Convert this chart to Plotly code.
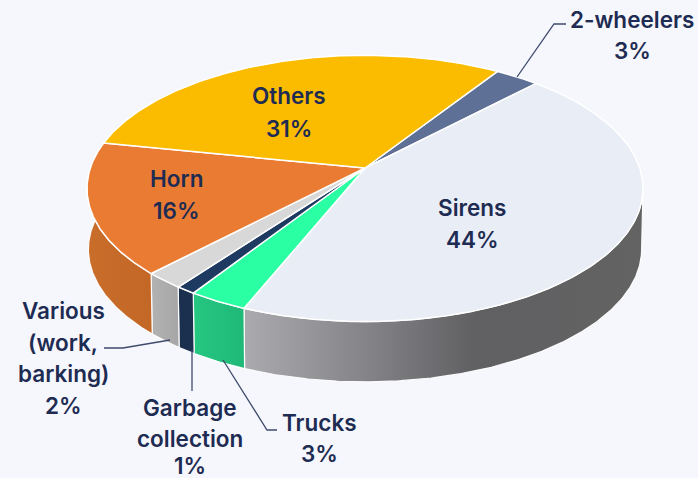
import numpy as np
import plotly.graph_objects as go

# --- data ---
categories = ["2-wheelers", "Sirens", "Trucks", "Garbage collection", "Various (work, barking)", "Horn", "Others"]
values = [3, 44, 3, 1, 2, 16, 31]
top_colors = ["#5f7096", "#e9edf6", "#2bffa3", "#1f3a60", "#d8d8d8", "#ea7b33", "#fbbc00"]
side_scales = {
    "Sirens": [[0, "#ababaf"], [0.3, "#858589"], [0.58, "#606063"], [1, "#636363"]],
    "Trucks": [[0, "#25c781"], [1, "#20b877"]],
    "Garbage collection": [[0, "#1b2f4f"], [1, "#1b2f4f"]],
    "Various (work, barking)": [[0, "#b2b2b2"], [1, "#a6a6a6"]],
    "Horn": [[0, "#c96d2b"], [1, "#c36727"]],
}
label_lines = {
    "Others": (289, [(95, "Others"), (128, "31%")]),
    "Horn": (176, [(178, "Horn"), (210, "16%")]),
    "Sirens": (472, [(207, "Sirens"), (239, "44%")]),
    "2-wheelers": (632, [(19, "2-wheelers"), (50, "3%")]),
    "Trucks": (319, [(422, "Trucks"), (453, "3%")]),
    "Various": (63, [(310, "Various"), (342, "(work,"), (373, "barking)"), (405, "2%")]),
    "Garbage": (190, [(407, "Garbage"), (438, "collection"), (465, "1%")]),
}
leaders = [
    ([104, 123, 170], [348, 348, 340]),
    ([192, 192], [350, 391]),
    ([223, 267, 277], [360, 430, 430]),
    ([517, 554, 566], [77, 24, 24]),
]

# --- pie geometry (perspective projection of a disc) ---
W, H = 698, 478
BG, INK, LEADER = "#f5f7fc", "#1e2b52", "#3f4a6b"
CX, CY_TOP, CY_BOT = 365, 168, 229
A, B, K = 274.7, 130.0, 0.1536
BOT_SCALE = 0.995
START_DEG = 57.0
SILHOUETTE = 9.0


def project(deg, cy, scale=1.0):
    t = np.radians(deg)
    u, v = np.cos(t), np.sin(t)
    d = 1 + K * v
    return CX + scale * A * u / d, cy - scale * B * v / d


def arc(a0, a1, cy, scale=1.0):
    n = max(2, int(abs(a1 - a0) * 2) + 1)
    return project(np.linspace(a0, a1, n), cy, scale)


edges = START_DEG - np.cumsum([0] + values) * 3.6
fig = go.Figure()

# side walls, drawn first so the top face overlaps them
for name, a0, a1 in zip(categories, edges[:-1], edges[1:]):
    if name not in side_scales:
        continue
    # wall is only visible on the front half, between the two silhouette angles
    s, e = min(a0, -SILHOUETTE), max(a1, -180 - SILHOUETTE)
    tx, ty = arc(s, e, CY_TOP)
    bx, by = arc(e, s, CY_BOT, BOT_SCALE)
    fig.add_trace(go.Scatter(
        x=np.r_[tx, bx, tx[0]], y=np.r_[ty, by, ty[0]], mode="lines", fill="toself",
        line=dict(color="rgba(255,255,255,0.95)", width=1.2),
        fillgradient=dict(type="horizontal", colorscale=side_scales[name]),
        hoverinfo="skip", showlegend=False))

# top face
for name, color, a0, a1 in zip(categories, top_colors, edges[:-1], edges[1:]):
    x, y = arc(a0, a1, CY_TOP)
    fig.add_trace(go.Scatter(
        x=np.r_[CX, x, CX], y=np.r_[CY_TOP, y, CY_TOP], mode="lines", fill="toself",
        fillcolor=color, line=dict(color="white", width=1.5),
        name=name, hoverinfo="name", showlegend=False))

# leader lines
for lx, ly in leaders:
    fig.add_trace(go.Scatter(x=lx, y=ly, mode="lines", line=dict(color=LEADER, width=1.3),
                             hoverinfo="skip", showlegend=False))

# labels
for cx, rows in label_lines.values():
    for y, txt in rows:
        fig.add_annotation(x=cx, y=y, text=txt, showarrow=False, xanchor="center", yanchor="middle",
                           font=dict(family="Inter", size=22.5, color=INK, weight=600))

fig.update_layout(
    width=W, height=H, autosize=False,
    margin=dict(l=0, r=0, t=0, b=0),
    paper_bgcolor=BG, plot_bgcolor=BG,
    xaxis=dict(range=[0, W], visible=False, fixedrange=True),
    yaxis=dict(range=[H, 0], visible=False, fixedrange=True),
)
fig.write_html(
    "out.html",
    config={"displayModeBar": False},
    post_script="document.documentElement.style.margin='0';document.body.style.margin='0';"
                "document.body.style.overflow='hidden';document.body.style.background='" + BG + "';",
)
